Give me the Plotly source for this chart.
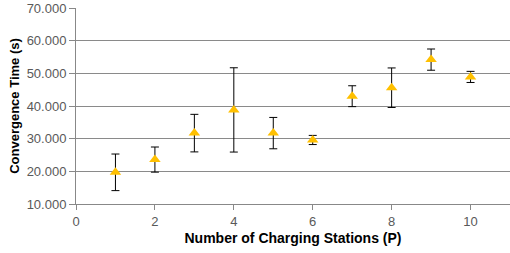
import plotly.graph_objects as go

stations = [1, 2, 3, 4, 5, 6, 7, 8, 9, 10]
conv_time = [19.7, 23.6, 31.7, 38.8, 31.7, 29.6, 43.0, 45.6, 54.2, 48.9]
conv_err = [5.6, 3.85, 5.75, 12.9, 4.8, 1.4, 3.2, 6.05, 3.25, 1.7]

fig = go.Figure()
fig.add_trace(go.Scatter(
    x=stations, y=conv_time, mode="markers",
    marker=dict(symbol="triangle-up", size=10, color="#FFC000"),
    error_y=dict(type="data", array=conv_err, visible=True,
                 color="#000000", thickness=1, width=4),
    showlegend=False,
))

fig.update_layout(
    width=510, height=253,
    margin=dict(l=76, r=0, t=8, b=49, autoexpand=False),
    paper_bgcolor="white", plot_bgcolor="white",
    font=dict(family="Liberation Sans, Arial", size=13, color="#595959"),
)
fig.update_xaxes(
    range=[0, 11], tickvals=[0, 2, 4, 6, 8, 10],
    showgrid=False, showline=True, linecolor="#888888", linewidth=1,
    ticks="outside", ticklen=5, tickcolor="#888888",
    zeroline=False, automargin=False,
    title=dict(text="<b>Number of Charging Stations (P)</b>",
               font=dict(size=14, color="#000000"), standoff=5),
)
fig.update_yaxes(
    range=[10, 70], dtick=10, tickformat=".3f",
    showgrid=True, gridcolor="#8a8a8a", gridwidth=1,
    showline=True, linecolor="#888888", linewidth=1,
    ticks="outside", ticklen=6, tickcolor="#888888",
    zeroline=False, automargin=False,
    title=dict(text="<b>Convergence Time (s)</b>",
               font=dict(size=13, color="#000000"), standoff=4),
)

fig.write_html("out.html",
               config={"displayModeBar": False},
               post_script="document.body.style.margin='0';")
